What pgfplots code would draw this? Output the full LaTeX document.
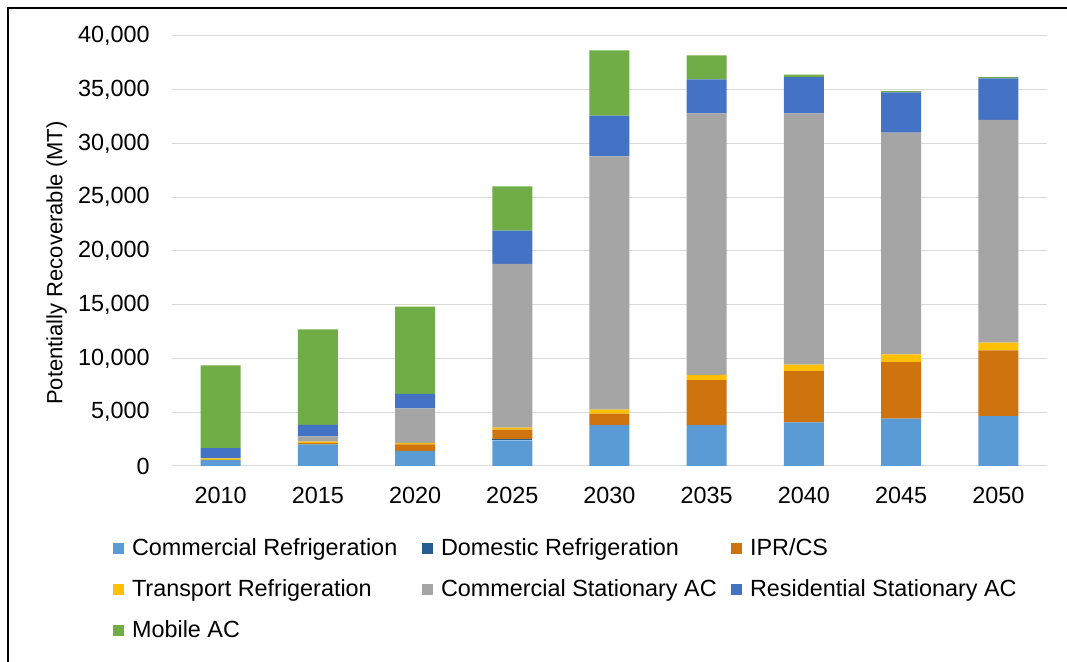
\documentclass[border=0pt]{standalone}
\usepackage{fontspec}
\setmainfont{Liberation Sans}
\usepackage{pgfplots}
\pgfplotsset{compat=1.18}
\definecolor{cr}{HTML}{5B9BD5}
\definecolor{dr}{HTML}{255E91}
\definecolor{ipr}{HTML}{CF730E}
\definecolor{tr}{HTML}{FFC000}
\definecolor{csac}{HTML}{A5A5A5}
\definecolor{rsac}{HTML}{4472C4}
\definecolor{mac}{HTML}{70AD47}
\definecolor{gridc}{HTML}{D9D9D9}
\pgfplotsset{sq/.style={legend image code/.code={\fill[##1] (0pt,-2.75pt) rectangle (5.5pt,2.75pt);}}}
\newcommand{\lb}[1]{\makebox[141.2pt][l]{#1}}
\begin{document}
\begin{tikzpicture}
\useasboundingbox (0,0) rectangle (533.5pt,331pt);
\draw[line width=1.25pt] (4pt,0) -- (4pt,327pt) -- (533.5pt,327pt);
\begin{axis}[
  at={(86pt,98pt)}, anchor=south west,
  scale only axis, width=437.5pt, height=215pt,
  ybar stacked, bar width=20pt,
  xmin=-0.5, xmax=8.5, ymin=0, ymax=40000,
  xtick=data, xticklabels={2010,2015,2020,2025,2030,2035,2040,2045,2050},
  ytick={0,5000,...,40000},
  scaled y ticks=false,
  major tick length=0pt,
  axis x line*=bottom, axis y line*=left,
  x axis line style={draw=gridc, line width=0.5pt, -},
  y axis line style={draw=none},
  ymajorgrids, grid style={draw=gridc, line width=0.5pt},
  /pgf/number format/assume math mode=true,
  tick label style={font=\fontsize{11.7}{14}\selectfont, text=black},
  xticklabel style={inner sep=0pt, anchor=north, yshift=-10.3pt},
  yticklabel style={inner sep=0pt, anchor=east, xshift=-11pt, /pgf/number format/.cd, fixed, 1000 sep={,}},
  ylabel={Potentially Recoverable (MT)},
  every axis y label/.style={at={(axis description cs:-0.1317,0.472)}, rotate=90, anchor=center, font=\fontsize{11}{13}\selectfont},
  legend columns=3,
  legend cell align=left,
  legend style={draw=none, fill=none, inner sep=0pt, row sep=2.6pt,
    nodes={inner sep=3.9pt},
    font=\fontsize{11.7}{14}\selectfont,
    at={(axis description cs:-0.0676,-0.150)}, anchor=north west},
]
\addplot[fill=cr, draw=none, sq] coordinates {(0,570)(1,2000)(2,1380)(3,2380)(4,3810)(5,3810)(6,4060)(7,4400)(8,4650)};
\addlegendentry{\lb{Commercial Refrigeration}}
\addplot[fill=dr, draw=none, sq] coordinates {(0,0)(1,0)(2,0)(3,120)(4,0)(5,0)(6,0)(7,0)(8,0)};
\addlegendentry{\lb{Domestic Refrigeration}}
\addplot[fill=ipr, draw=none, sq] coordinates {(0,0)(1,130)(2,620)(3,880)(4,1060)(5,4170)(6,4760)(7,5260)(8,6110)};
\addlegendentry{\lb{IPR/CS}}
\addplot[fill=tr, draw=none, sq] coordinates {(0,130)(1,130)(2,160)(3,190)(4,370)(5,500)(6,600)(7,720)(8,720)};
\addlegendentry{\lb{Transport Refrigeration}}
\addplot[fill=csac, draw=none, sq] coordinates {(0,0)(1,490)(2,3210)(3,15230)(4,23560)(5,24320)(6,23380)(7,20620)(8,20720)};
\addlegendentry{\lb{Commercial Stationary AC}}
\addplot[fill=rsac, draw=none, sq] coordinates {(0,970)(1,1070)(2,1350)(3,3100)(4,3800)(5,3160)(6,3380)(7,3750)(8,3850)};
\addlegendentry{\lb{Residential Stationary AC}}
\addplot[fill=mac, draw=none, sq] coordinates {(0,7700)(1,8880)(2,8100)(3,4100)(4,6070)(5,2240)(6,220)(7,120)(8,130)};
\addlegendentry{\lb{Mobile AC}}
\end{axis}
\end{tikzpicture}
\end{document}
